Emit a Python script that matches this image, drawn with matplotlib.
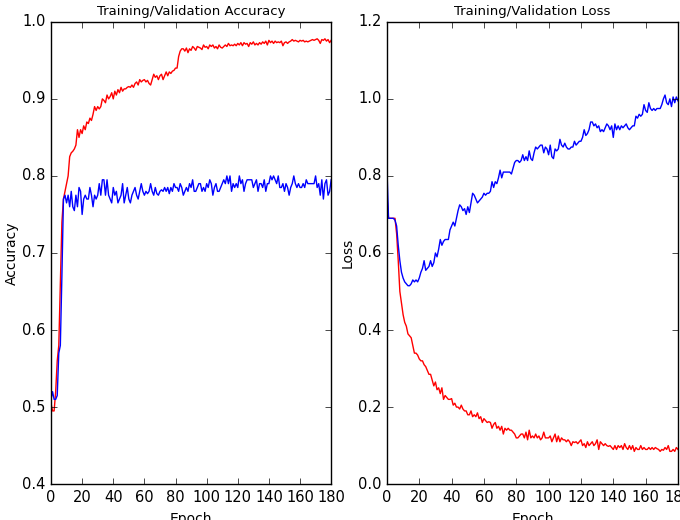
import numpy as np
import matplotlib
matplotlib.use("Agg")
import matplotlib.pyplot as plt

plt.style.use("classic")

# values, one per epoch (0..180)
train_acc = [
    0.505, 0.495, 0.495, 0.52, 0.56, 0.58, 0.66, 0.74, 0.77, 0.78,
    0.79, 0.80, 0.825, 0.83, 0.832, 0.835, 0.84, 0.86, 0.85, 0.86,
    0.855, 0.865, 0.86, 0.87, 0.868, 0.875, 0.872, 0.88, 0.89, 0.885,
    0.89, 0.887, 0.89, 0.90, 0.898, 0.895, 0.905, 0.90, 0.903, 0.908,
    0.90, 0.91, 0.905, 0.912, 0.908, 0.915, 0.91, 0.913, 0.913, 0.915,
    0.916, 0.915, 0.918, 0.915, 0.92, 0.922, 0.918, 0.925, 0.922, 0.924,
    0.925, 0.922, 0.924, 0.92, 0.918, 0.925, 0.932, 0.928, 0.93, 0.925,
    0.93, 0.932, 0.925, 0.93, 0.935, 0.93, 0.935, 0.933, 0.936, 0.937,
    0.94, 0.94, 0.955, 0.962, 0.965, 0.965, 0.962, 0.966, 0.96, 0.965,
    0.963, 0.968, 0.966, 0.963, 0.968, 0.967, 0.966, 0.964, 0.97, 0.967,
    0.968, 0.965, 0.97, 0.968, 0.97, 0.966, 0.968, 0.965, 0.97, 0.967,
    0.966, 0.968, 0.97, 0.968, 0.972, 0.969, 0.97, 0.969, 0.971, 0.969,
    0.972, 0.97, 0.973, 0.969, 0.973, 0.971, 0.972, 0.968, 0.973, 0.971,
    0.974, 0.97, 0.972, 0.97, 0.973, 0.971, 0.974, 0.972, 0.975, 0.97,
    0.976, 0.973, 0.975, 0.972, 0.975, 0.973, 0.974, 0.973, 0.975, 0.969,
    0.973, 0.974, 0.972, 0.974, 0.975, 0.977, 0.975, 0.976, 0.975, 0.974,
    0.976, 0.975, 0.976, 0.974, 0.975, 0.974, 0.975, 0.976, 0.977, 0.976,
    0.977, 0.978, 0.976, 0.972, 0.977, 0.976, 0.978, 0.975, 0.977, 0.973,
    0.976,
]
val_acc = [
    0.51, 0.52, 0.51, 0.51, 0.515, 0.57, 0.58, 0.67, 0.77, 0.775,
    0.765, 0.775, 0.76, 0.78, 0.76, 0.755, 0.775, 0.76, 0.785, 0.78,
    0.75, 0.77, 0.775, 0.77, 0.77, 0.785, 0.775, 0.76, 0.775, 0.77,
    0.775, 0.79, 0.775, 0.795, 0.795, 0.775, 0.795, 0.775, 0.77, 0.765,
    0.785, 0.775, 0.78, 0.765, 0.77, 0.775, 0.79, 0.765, 0.775, 0.785,
    0.77, 0.765, 0.775, 0.78, 0.785, 0.775, 0.77, 0.78, 0.79, 0.78,
    0.775, 0.78, 0.777, 0.78, 0.79, 0.78, 0.775, 0.785, 0.777, 0.775,
    0.78, 0.782, 0.78, 0.785, 0.78, 0.785, 0.777, 0.785, 0.78, 0.79,
    0.785, 0.785, 0.78, 0.79, 0.785, 0.775, 0.78, 0.785, 0.78, 0.79,
    0.785, 0.795, 0.78, 0.78, 0.785, 0.79, 0.79, 0.78, 0.785, 0.78,
    0.79, 0.785, 0.795, 0.79, 0.775, 0.785, 0.79, 0.78, 0.78, 0.785,
    0.79, 0.795, 0.79, 0.80, 0.79, 0.80, 0.78, 0.79, 0.785, 0.79,
    0.785, 0.80, 0.79, 0.795, 0.78, 0.79, 0.795, 0.795, 0.795, 0.795,
    0.785, 0.79, 0.795, 0.78, 0.79, 0.79, 0.785, 0.795, 0.78, 0.79,
    0.79, 0.80, 0.795, 0.80, 0.795, 0.79, 0.80, 0.785, 0.785, 0.79,
    0.78, 0.79, 0.785, 0.775, 0.785, 0.79, 0.80, 0.79, 0.785, 0.79,
    0.785, 0.785, 0.79, 0.785, 0.795, 0.79, 0.79, 0.79, 0.79, 0.79,
    0.80, 0.785, 0.79, 0.775, 0.795, 0.77, 0.79, 0.795, 0.775, 0.78,
    0.795,
]
train_loss = [
    0.75, 0.69, 0.69, 0.69, 0.69, 0.69, 0.65, 0.58, 0.50, 0.47,
    0.44, 0.42, 0.41, 0.39, 0.385, 0.38, 0.36, 0.34, 0.34, 0.335,
    0.325, 0.32, 0.32, 0.31, 0.305, 0.295, 0.285, 0.285, 0.27, 0.255,
    0.265, 0.245, 0.25, 0.235, 0.25, 0.22, 0.23, 0.225, 0.22, 0.22,
    0.222, 0.205, 0.21, 0.20, 0.20, 0.195, 0.205, 0.195, 0.19, 0.19,
    0.18, 0.18, 0.19, 0.175, 0.18, 0.175, 0.185, 0.17, 0.175, 0.16,
    0.17, 0.165, 0.16, 0.162, 0.16, 0.145, 0.155, 0.16, 0.145, 0.15,
    0.14, 0.15, 0.13, 0.145, 0.14, 0.145, 0.14, 0.14, 0.135, 0.13,
    0.12, 0.12, 0.125, 0.13, 0.13, 0.12, 0.135, 0.115, 0.14, 0.12,
    0.125, 0.12, 0.13, 0.12, 0.125, 0.115, 0.12, 0.135, 0.12, 0.12,
    0.12, 0.125, 0.11, 0.12, 0.13, 0.11, 0.125, 0.11, 0.12, 0.115,
    0.115, 0.11, 0.115, 0.11, 0.10, 0.11, 0.108, 0.11, 0.105, 0.11,
    0.115, 0.10, 0.105, 0.095, 0.11, 0.10, 0.105, 0.11, 0.10, 0.105,
    0.115, 0.09, 0.11, 0.105, 0.10, 0.105, 0.10, 0.098, 0.10, 0.095,
    0.09, 0.10, 0.09, 0.10, 0.095, 0.10, 0.09, 0.105, 0.095, 0.09,
    0.10, 0.09, 0.10, 0.085, 0.095, 0.09, 0.09, 0.10, 0.09, 0.095,
    0.09, 0.09, 0.095, 0.09, 0.095, 0.09, 0.095, 0.092, 0.09, 0.085,
    0.09, 0.088, 0.095, 0.09, 0.10, 0.085, 0.085, 0.09, 0.085, 0.095,
    0.09,
]
val_loss = [
    0.82, 0.69, 0.69, 0.69, 0.69, 0.685, 0.67, 0.62, 0.58, 0.55,
    0.535, 0.525, 0.52, 0.515, 0.515, 0.52, 0.53, 0.525, 0.53, 0.525,
    0.535, 0.55, 0.56, 0.58, 0.555, 0.56, 0.565, 0.58, 0.565, 0.575,
    0.60, 0.59, 0.61, 0.635, 0.62, 0.63, 0.635, 0.635, 0.635, 0.66,
    0.67, 0.68, 0.67, 0.69, 0.71, 0.725, 0.72, 0.71, 0.715, 0.70,
    0.72, 0.705, 0.73, 0.755, 0.75, 0.74, 0.73, 0.735, 0.74, 0.745,
    0.755, 0.75, 0.755, 0.755, 0.76, 0.785, 0.77, 0.785, 0.78, 0.795,
    0.815, 0.795, 0.81, 0.81, 0.81, 0.81, 0.81, 0.805, 0.82, 0.835,
    0.84, 0.84, 0.835, 0.84, 0.855, 0.84, 0.85, 0.84, 0.865, 0.845,
    0.84, 0.86, 0.875, 0.87, 0.875, 0.88, 0.88, 0.86, 0.875, 0.87,
    0.855, 0.88, 0.85, 0.845, 0.87, 0.865, 0.87, 0.895, 0.88, 0.875,
    0.885, 0.875, 0.87, 0.87, 0.875, 0.875, 0.89, 0.88, 0.885, 0.89,
    0.89, 0.90, 0.92, 0.905, 0.91, 0.92, 0.94, 0.94, 0.93, 0.935,
    0.925, 0.93, 0.915, 0.92, 0.915, 0.925, 0.935, 0.93, 0.92, 0.93,
    0.90, 0.935, 0.92, 0.93, 0.92, 0.93, 0.925, 0.93, 0.935, 0.925,
    0.92, 0.925, 0.93, 0.93, 0.955, 0.95, 0.96, 0.955, 0.96, 0.985,
    0.97, 0.965, 0.99, 0.975, 0.97, 0.975, 0.97, 0.975, 0.975, 0.975,
    0.985, 1.00, 1.01, 0.99, 0.985, 1.00, 0.98, 1.005, 0.99, 1.005,
    0.995,
]
epochs = np.arange(len(train_acc))

fig = plt.figure(figsize=(6.8, 5.2), dpi=100, facecolor="white")

ax1 = fig.add_axes([0.075, 0.069, 0.412, 0.889])
ax1.plot(epochs, train_acc, color="r", lw=1)
ax1.plot(epochs, val_acc, color="b", lw=1)
ax1.set_xlim(0, 180)
ax1.set_ylim(0.4, 1.0)
ax1.set_title("Training/Validation Accuracy", fontsize=9.5)
ax1.set_xlabel("Epoch", fontsize=10)
ax1.set_ylabel("Accuracy", fontsize=10, labelpad=2)

ax2 = fig.add_axes([0.569, 0.069, 0.428, 0.889])
ax2.plot(epochs, train_loss, color="r", lw=1)
ax2.plot(epochs, val_loss, color="b", lw=1)
ax2.set_xlim(0, 180)
ax2.set_ylim(0.0, 1.2)
ax2.set_title("Training/Validation Loss", fontsize=9.5)
ax2.set_xlabel("Epoch", fontsize=10)
ax2.set_ylabel("Loss", fontsize=10, labelpad=2)

for ax in (ax1, ax2):
    ax.tick_params(labelsize=10.5)

fig.savefig("out.png", dpi=100, facecolor="white")
